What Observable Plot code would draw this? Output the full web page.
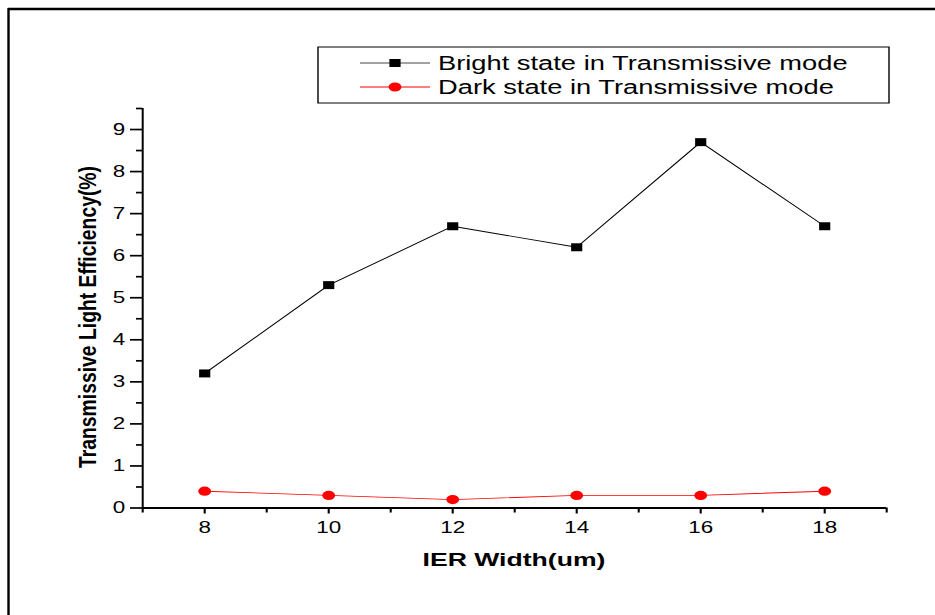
<!DOCTYPE html>
<html><head><meta charset="utf-8">
<script src="https://cdn.jsdelivr.net/npm/d3@7"></script>
<script src="https://cdn.jsdelivr.net/npm/@observablehq/plot@0.6"></script>
<style>html,body{margin:0;padding:0;background:#fff;overflow:hidden} svg{display:block}</style>
</head><body><div id="chart"></div>
<script>
// ---- data ----
const widths = [8, 10, 12, 14, 16, 18];
const bright = [3.2, 5.3, 6.7, 6.2, 8.7, 6.7];
const dark = [0.4, 0.3, 0.2, 0.3, 0.3, 0.4];
const seriesNames = ["Bright state in Transmissive mode", "Dark state in Transmissive mode"];
const xTicks = [8, 10, 12, 14, 16, 18];
const xMinorTicks = [7, 9, 11, 13, 15, 17, 19];
const yTicks = [0, 1, 2, 3, 4, 5, 6, 7, 8, 9];
const yMinorTicks = [0.5, 1.5, 2.5, 3.5, 4.5, 5.5, 6.5, 7.5, 8.5, 9.5];
const xLabel = "IER Width(um)";
const yLabel = "Transmissive Light Efficiency(%)";

// ---- layout (picture is stretched horizontally) ----
const W = 935, H = 615, SX = 1.4;
const IW = W / SX;
const FONT = "'Liberation Sans', Arial, Helvetica, sans-serif";
const TICK_FS = 16;

const brightData = widths.map((x, i) => ({x, y: bright[i]}));
const darkData = widths.map((x, i) => ({x, y: dark[i]}));

const plot = Plot.plot({
  width: IW, height: H,
  marginLeft: 142 / SX, marginRight: (W - 886) / SX,
  marginTop: 108, marginBottom: 107.5,
  x: {domain: [7, 19]},
  y: {domain: [0, 9.5]},
  style: {fontFamily: FONT, fontSize: TICK_FS + "px", color: "#000", background: "#fff", overflow: "visible"},
  marks: [
    Plot.axisY({ticks: yTicks, tickSize: 12 / SX, tickPadding: 4, tickFormat: d => String(d), label: null, strokeWidth: 1.7, fontSize: TICK_FS}),
    Plot.axisY({ticks: yMinorTicks, tickSize: 6 / SX, text: null, label: null, strokeWidth: 1.7}),
    Plot.axisX({ticks: xTicks, tickSize: 6, tickPadding: 8, tickFormat: d => String(d), label: null, strokeWidth: 1.5, fontSize: TICK_FS}),
    Plot.axisX({ticks: xMinorTicks, tickSize: 5, text: null, label: null, strokeWidth: 1.5}),
    Plot.ruleX([7], {stroke: "#000", strokeWidth: 2 / SX}),
    Plot.ruleY([0], {stroke: "#000", strokeWidth: 2}),
    Plot.line(brightData, {x: "x", y: "y", stroke: "#000", strokeWidth: 0.9}),
    Plot.line(darkData, {x: "x", y: "y", stroke: "#ff0000", strokeWidth: 0.9}),
    Plot.dot(brightData, {x: "x", y: "y", symbol: "square", r: 4.5, fill: "#000", stroke: "none"}),
    Plot.dot(darkData, {x: "x", y: "y", symbol: "circle", r: 4.6, fill: "#ff0000", stroke: "none"})
  ]
});

const svg = d3.select(plot);
svg.attr("width", W).attr("height", H)
   .attr("viewBox", `0 0 ${IW} ${H}`)
   .attr("preserveAspectRatio", "none")
   .style("width", W + "px").style("height", H + "px").style("max-width", "none");

// make sure tick labels use the intended size
svg.selectAll('g[aria-label="y-axis tick label"] text, g[aria-label="x-axis tick label"] text')
   .attr("font-size", TICK_FS).style("font-size", TICK_FS + "px");

// outer frame (left and top only)
svg.append("line").attr("x1", 8.5 / SX).attr("x2", 8.5 / SX).attr("y1", 8).attr("y2", H)
   .attr("stroke", "#000").attr("stroke-width", 2.4 / SX);
svg.append("line").attr("x1", 8 / SX).attr("x2", IW).attr("y1", 9).attr("y2", 9)
   .attr("stroke", "#000").attr("stroke-width", 2.5);

// axis titles
svg.append("text")
   .attr("x", (142 + 886) / 2 / SX).attr("y", 566)
   .attr("text-anchor", "middle").attr("font-family", FONT)
   .attr("font-weight", "bold").attr("font-size", 19)
   .text(xLabel);
svg.append("text")
   .attr("transform", `translate(${96 / SX},317) rotate(-90)`)
   .attr("text-anchor", "middle").attr("font-family", FONT)
   .attr("font-weight", "bold").attr("font-size", 16.5)
   .attr("textLength", 302).attr("lengthAdjust", "spacingAndGlyphs")
   .text(yLabel);

// legend
const lg = svg.append("g").attr("text-anchor", "start");
lg.append("rect").attr("x", 318 / SX).attr("y", 47).attr("width", (889 - 318) / SX).attr("height", 56)
  .attr("fill", "#fff").attr("stroke", "#000").attr("stroke-width", 1);
const rows = [
  {name: seriesNames[0], color: "#000", lineColor: "#444", sym: "square", y: 63},
  {name: seriesNames[1], color: "#ff0000", lineColor: "#ff0000", sym: "circle", y: 87}
];
rows.forEach(r => {
  lg.append("line").attr("x1", 360 / SX).attr("x2", 430 / SX).attr("y1", r.y).attr("y2", r.y)
    .attr("stroke", r.lineColor).attr("stroke-width", 1);
  if (r.sym === "square") {
    lg.append("rect").attr("x", 395 / SX - 4).attr("y", r.y - 4).attr("width", 8).attr("height", 8).attr("fill", r.color);
  } else {
    lg.append("circle").attr("cx", 395 / SX).attr("cy", r.y).attr("r", 4.6).attr("fill", r.color);
  }
  lg.append("text").attr("x", 438 / SX).attr("y", r.y).attr("dy", "0.35em")
    .attr("text-anchor", "start")
    .attr("font-family", FONT).attr("font-size", 19.5).attr("fill", "#000").text(r.name);
});

document.getElementById("chart").appendChild(plot);
</script>
</body></html>
